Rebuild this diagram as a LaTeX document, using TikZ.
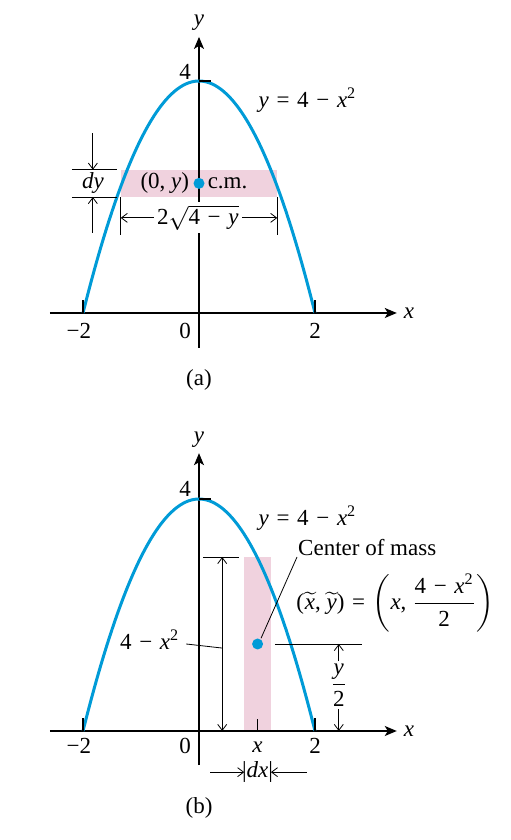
\documentclass[tikz,border=0pt]{standalone}
\usepackage{fontspec}
\setmainfont{Liberation Serif}
\usepackage{amsmath}
\usetikzlibrary{arrows.meta}
\definecolor{curveblue}{RGB}{0,155,215}
\definecolor{strippink}{RGB}{240,210,222}
\newcommand{\bop}[1]{\,\,#1\,\,}
\tikzset{
  axisline/.style={line width=0.7pt, -{Stealth[length=6pt,width=5pt,inset=1.5pt]}},
  curveline/.style={curveblue, line width=1.5pt},
  tickline/.style={line width=0.7pt},
  dimline/.style={line width=0.4pt},
  dimarrow/.style={line width=0.4pt, -{Straight Barb[length=3pt,width=4.5pt]}},
  lab/.style={font=\fontsize{11.5}{13}\selectfont, inner sep=1pt},
  cmdot/.style={circle, fill=curveblue, inner sep=0pt, minimum size=5.5pt},
}
\begin{document}
\begin{tikzpicture}
\useasboundingbox (0,0) rectangle (255pt,420pt);
% ================= panel (a) =================
\begin{scope}[shift={(99.5pt,263.5pt)},x=29pt,y=29pt]
  \fill[strippink] (-1.35,2.0) rectangle (1.35,2.47);
  \coordinate (axL) at (-2.57,0); \coordinate (axR) at (3.41,0);
  \coordinate (ayB) at (0,-0.6);  \coordinate (ayT) at (0,4.76);
  \draw[axisline] (axL) -- (axR);
  \draw[axisline] (ayB) -- (ayT);
  \node[lab] (xlab) at (3.62,0) {\textit{x}};
  \node[lab] (ylab) at (0,5.0) {\textit{y}};
  \draw[curveline] plot[domain=-2:2, samples=80, smooth] (\x,{4-\x*\x});
  % ticks
  \coordinate (t4a) at (0,4); \coordinate (t4b) at (0.21,4);
  \draw[tickline] (t4a) -- (t4b);
  \coordinate (tm2a) at (-2,0); \coordinate (tm2b) at (-2,0.22);
  \draw[tickline] (tm2a) -- (tm2b);
  \coordinate (tp2a) at (2,0); \coordinate (tp2b) at (2,0.22);
  \draw[tickline] (tp2a) -- (tp2b);
  \node[lab] (l4) at (-0.24,4.16) {4};
  \node[lab] (lm2) at (-2.07,-0.31) {−2};
  \node[lab] (l0) at (-0.24,-0.31) {0};
  \node[lab] (l2) at (2.0,-0.31) {2};
  \node[lab] (cap) at (0,-1.16) {(a)};
  \node[lab] (eqa) at (1.87,3.67) {\textit{y}\bop{=}4\bop{−}\textit{x}\textsuperscript{2}};
  % centre of mass
  \node[cmdot] (dota) at (0,2.235) {};
  \node[lab, anchor=east] (p0y) at (-0.13,2.235) {(0, \textit{y})};
  \node[lab, anchor=west] (cm) at (0.11,2.235) {c.m.};
  % dy marker
  \coordinate (dyT1) at (-2.19,2.47); \coordinate (dyT2) at (-1.41,2.47);
  \coordinate (dyB1) at (-2.19,2.0);  \coordinate (dyB2) at (-1.41,2.0);
  \draw[dimline] (dyT1) -- (dyT2);
  \draw[dimline] (dyB1) -- (dyB2);
  \node[lab] (dy) at (-1.83,2.235) {\textit{dy}};
  \coordinate (dyA1) at (-1.83,3.1);  \coordinate (dyA1e) at (-1.83,2.47);
  \coordinate (dyA2) at (-1.83,1.38); \coordinate (dyA2e) at (-1.83,2.0);
  \draw[dimarrow] (dyA1) -- (dyA1e);
  \draw[dimarrow] (dyA2) -- (dyA2e);
  % width marker
  \coordinate (wbL1) at (-1.35,2.0); \coordinate (wbL2) at (-1.35,1.35);
  \coordinate (wbR1) at (1.35,2.0);  \coordinate (wbR2) at (1.35,1.35);
  \draw[dimline] (wbL1) -- (wbL2);
  \draw[dimline] (wbR1) -- (wbR2);
  \node[lab, fill=white, inner sep=1.5pt] (wl) at (-0.02,1.64) {$\text{2}\sqrt{\text{4\bop{−}\textit{y}}}$};
  \coordinate (wL) at (-1.35,1.64); \coordinate (wR) at (1.35,1.64);
  \draw[dimarrow] (wl.west) -- (wL);
  \draw[dimarrow] (wl.east) -- (wR);
\end{scope}
% ================= panel (b) =================
\begin{scope}[shift={(99.5pt,54.5pt)},x=29pt,y=29pt]
  \fill[strippink] (0.78,0) rectangle (1.24,3);
  \coordinate (bxL) at (-2.57,0); \coordinate (bxR) at (3.41,0);
  \coordinate (byB) at (0,-0.59);  \coordinate (byT) at (0,4.79);
  \draw[axisline] (bxL) -- (bxR);
  \draw[axisline] (byB) -- (byT);
  \node[lab] (bxlab) at (3.62,0) {\textit{x}};
  \node[lab] (bylab) at (0,5.02) {\textit{y}};
  \draw[curveline] plot[domain=-2:2, samples=80, smooth] (\x,{4-\x*\x});
  \coordinate (bt4a) at (0,4); \coordinate (bt4b) at (0.21,4);
  \draw[tickline] (bt4a) -- (bt4b);
  \coordinate (btm2a) at (-2,0); \coordinate (btm2b) at (-2,0.22);
  \draw[tickline] (btm2a) -- (btm2b);
  \coordinate (btp2a) at (2,0); \coordinate (btp2b) at (2,0.22);
  \draw[tickline] (btp2a) -- (btp2b);
  \coordinate (bt1a) at (1.01,0); \coordinate (bt1b) at (1.01,0.2);
  \draw[tickline] (bt1a) -- (bt1b);
  \node[lab] (bl4) at (-0.24,4.17) {4};
  \node[lab] (blm2) at (-2.07,-0.26) {−2};
  \node[lab] (bl0) at (-0.24,-0.26) {0};
  \node[lab] (bl2) at (2.0,-0.26) {2};
  \node[lab] (blx) at (1.01,-0.28) {\textit{x}};
  \node[lab] (bcap) at (0,-1.33) {(b)};
  \node[lab] (eqb) at (1.87,3.67) {\textit{y}\bop{=}4\bop{−}\textit{x}\textsuperscript{2}};
  % centre of mass
  \node[cmdot] (dotb) at (1.01,1.5) {};
  \node[lab] (com) at (2.9,3.17) {Center of mass};
  \coordinate (comL) at (1.69,3.0); \coordinate (comE) at (1.07,1.6);
  \draw[dimline] (comL) -- (comE);
  \node[lab] (formula) at (3.38,2.2) {(\kern0.5pt$\widetilde{\text{\textit{x}}}$, $\widetilde{\text{\textit{y}}}$)\bop{=}$\left(\text{\textit{x}, }\dfrac{\text{4\bop{−}\textit{x}\textsuperscript{2}}}{\text{2}}\right)$};
  % left dimension 4 - x^2
  \coordinate (ld1) at (0.07,3); \coordinate (ld2) at (0.69,3);
  \draw[dimline] (ld1) -- (ld2);
  \coordinate (lvT) at (0.4,3); \coordinate (lvB) at (0.4,0);
  \coordinate (lvM) at (0.4,1.43);
  \draw[dimarrow] (lvM) -- (lvT);
  \draw[dimarrow] (lvM) -- (lvB);
  \node[lab] (h) at (-0.85,1.57) {4\bop{−}\textit{x}\textsuperscript{2}};
  \coordinate (hL) at (-0.22,1.5);
  \draw[dimline] (hL) -- (lvM);
  % right dimension y/2
  \coordinate (rd1) at (1.31,1.5); \coordinate (rd2) at (2.81,1.5);
  \draw[dimline] (rd1) -- (rd2);
  \node[lab] (half) at (2.41,0.79) {$\dfrac{\text{\textit{y}}}{\text{2}}$};
  \coordinate (rT) at (2.41,1.5); \coordinate (rB) at (2.41,0);
  \draw[dimarrow] (half.north) -- (rT);
  \draw[dimarrow] (half.south) -- (rB);
  % dx marker
  \node[lab] (dx) at (1.01,-0.71) {|\textit{dx}|};
  \coordinate (dxA) at (0.19,-0.71); \coordinate (dxAe) at (0.78,-0.71);
  \coordinate (dxB) at (1.86,-0.71); \coordinate (dxBe) at (1.24,-0.71);
  \draw[dimarrow] (dxA) -- (dxAe);
  \draw[dimarrow] (dxB) -- (dxBe);
\end{scope}
\end{tikzpicture}
\end{document}
